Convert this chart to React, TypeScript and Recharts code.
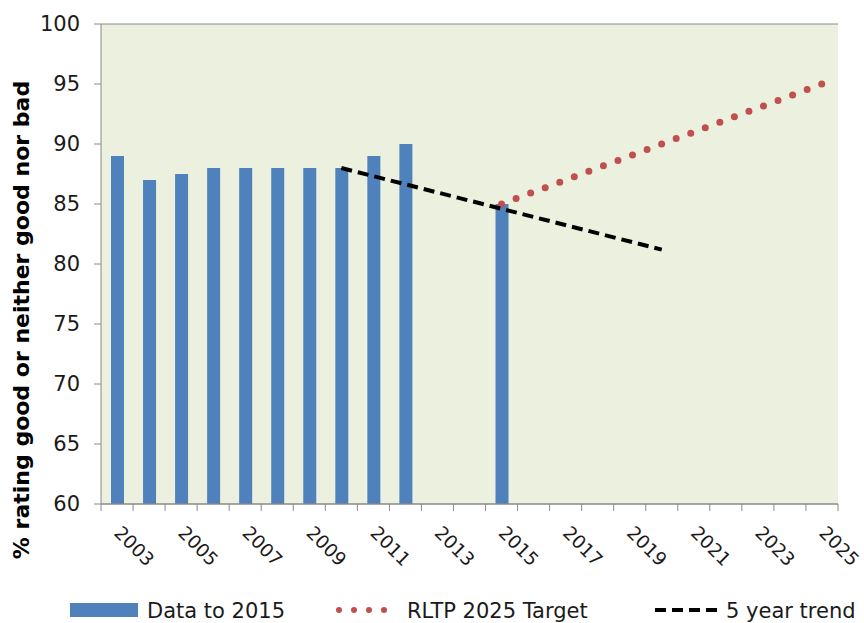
import React from 'react';
import { ComposedChart, Bar, Line, XAxis, YAxis, CartesianGrid } from 'recharts';

const years = [
  '2003', '2004', '2005', '2006', '2007', '2008', '2009', '2010', '2011', '2012', '2013', '2014',
  '2015', '2016', '2017', '2018', '2019', '2020', '2021', '2022', '2023', '2024', '2025',
];
const dataTo2015: (number | null)[] = [
  89, 87, 87.5, 88, 88, 88, 88, 88, 89, 90, null, null,
  85, null, null, null, null, null, null, null, null, null, null,
];
const rltpTarget: (number | null)[] = [
  null, null, null, null, null, null, null, null, null, null, null, null,
  85, null, null, null, null, null, null, null, null, null, 95,
];
const trend5yr: (number | null)[] = [
  null, null, null, null, null, null, null, 88, null, null, null, null,
  null, null, null, null, null, 81.2, null, null, null, null, null,
];
const yTicks = [60, 65, 70, 75, 80, 85, 90, 95, 100];

const data = years.map((year, i) => ({
  year,
  bar: dataTo2015[i],
  target: rltpTarget[i],
  trend: trend5yr[i],
}));

const FONT = 'DejaVu Sans, sans-serif';
const GRID = '#8a8a8a';

const XTick = (props: any) => {
  const { x, y, payload, index, visibleTicksCount } = props;
  const off = payload && payload.offset ? payload.offset : 16;
  const last = index === (visibleTicksCount ?? years.length) - 1;
  const px = x - 4;
  const py = y + 30;
  return (
    <g>
      <line x1={x - off} y1={y} x2={x - off} y2={y + 7} stroke={GRID} strokeWidth={1} />
      {last && <line x1={x + off} y1={y} x2={x + off} y2={y + 7} stroke={GRID} strokeWidth={1} />}
      {index % 2 === 0 && (
        <text
          x={px}
          y={py}
          transform={`rotate(45 ${px} ${py})`}
          textAnchor="start"
          fontFamily={FONT}
          fontSize={18.5}
          fill="#1a1a1a"
        >
          {payload.value}
        </text>
      )}
    </g>
  );
};

const YTitle = (props: any) => {
  const cx = 21;
  const cy = 320;
  return (
    <text
      x={cx}
      y={cy}
      transform={`rotate(-90 ${cx} ${cy})`}
      textAnchor="middle"
      dominantBaseline="central"
      fontFamily={FONT}
      fontWeight="bold"
      fontSize={22}
      fill="#000"
    >
      % rating good or neither good nor bad
    </text>
  );
};

const Legend = () => (
  <svg width={864} height={33} style={{ position: 'absolute', left: 0, top: 590 }}>
    <rect x={70} y={13} width={68} height={14} fill="#4F81BD" />
    <text x={147} y={27.5} fontFamily={FONT} fontSize={21} fill="#1a1a1a">Data to 2015</text>
    <line x1={339} y1={20} x2={399} y2={20} stroke="#C0504D" strokeWidth={6} strokeLinecap="round" strokeDasharray="0 15" />
    <text x={407} y={27.5} fontFamily={FONT} fontSize={21} fill="#1a1a1a">RLTP 2025 Target</text>
    <line x1={655} y1={20} x2={721} y2={20} stroke="#000" strokeWidth={4} strokeDasharray="11 6" />
    <text x={726} y={27.5} fontFamily={FONT} fontSize={21} fill="#1a1a1a">5 year trend</text>
  </svg>
);

export default function App() {
  return (
    <div style={{ position: 'absolute', left: 0, top: 0, width: 864, height: 623, background: '#fff' }}>
      <ComposedChart
        width={864}
        height={623}
        data={data}
        margin={{ top: 24, right: 26, bottom: 39, left: 0 }}
      >
        <CartesianGrid vertical={false} stroke={GRID} fill="#EBF1DE" fillOpacity={1} />
        <XAxis
          dataKey="year"
          interval={0}
          height={80}
          tickLine={false}
          tickSize={0}
          tickMargin={0}
          axisLine={{ stroke: GRID }}
          tick={<XTick />}
        />
        <YAxis
          yAxisId="left"
          domain={[60, 100]}
          ticks={yTicks}
          width={101}
          tickSize={7}
          tickMargin={14}
          axisLine={{ stroke: GRID }}
          tickLine={{ stroke: GRID }}
          tick={{ fontFamily: FONT, fontSize: 21, fill: '#1a1a1a' }}
          label={<YTitle />}
        />
        <YAxis
          yAxisId="right"
          orientation="right"
          domain={[60, 100]}
          width={0}
          tick={false}
          tickLine={false}
          axisLine={{ stroke: GRID }}
        />
        <Bar yAxisId="left" dataKey="bar" fill="#4F81BD" barSize={13} isAnimationActive={false} />
        <Line
          yAxisId="left"
          type="linear"
          dataKey="target"
          stroke="#C0504D"
          strokeWidth={7}
          strokeLinecap="round"
          strokeDasharray="0 15.54"
          dot={false}
          activeDot={false}
          connectNulls
          isAnimationActive={false}
        />
        <Line
          yAxisId="left"
          type="linear"
          dataKey="trend"
          stroke="#000"
          strokeWidth={4}
          strokeDasharray="11 6"
          dot={false}
          activeDot={false}
          connectNulls
          isAnimationActive={false}
        />
      </ComposedChart>
      <Legend />
    </div>
  );
}
